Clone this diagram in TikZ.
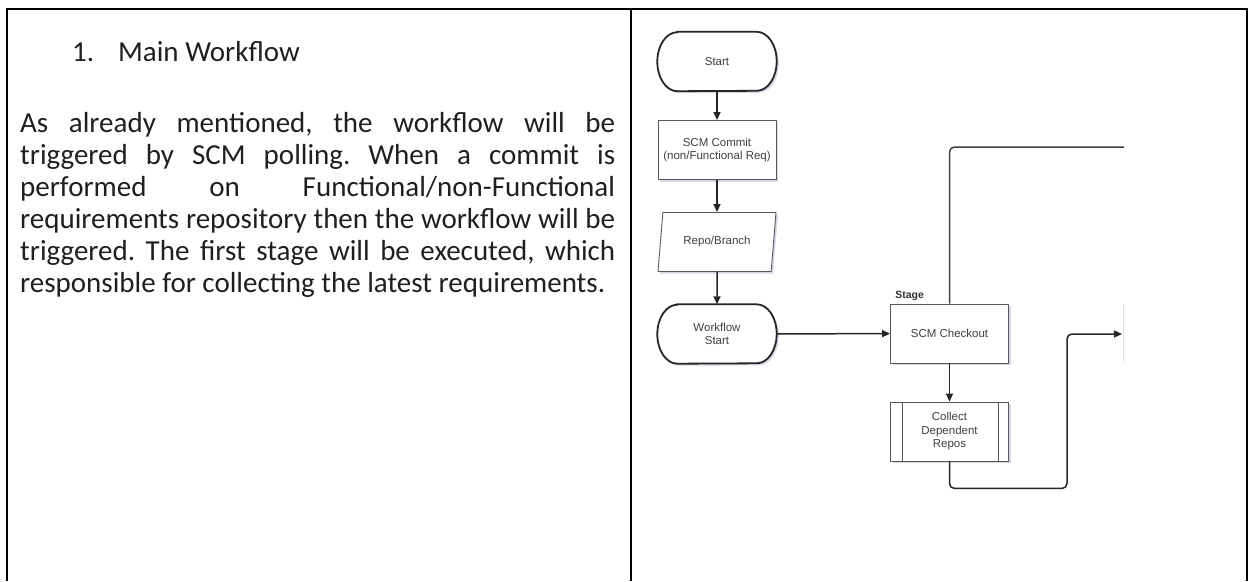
\documentclass[tikz,border=0pt]{standalone}
\usepackage{fontspec}
\setmainfont{Carlito}
\newfontfamily\chartfont{Liberation Sans}
\usetikzlibrary{arrows.meta,shapes.geometric,shadows}
\tolerance=10000
\hbadness=10000

\pgfdeclarelayer{bg}
\pgfsetlayers{bg,main}

\tikzset{
  bodytext/.style={inner sep=0pt, text=black!88, font=\fontsize{29}{32}\selectfont\frenchspacing},
  boxshadow/.style={drop shadow={shadow xshift=2pt, shadow yshift=-2pt, opacity=0.16, fill=blue!40!black}},
  chartnode/.style={minimum width=118pt, minimum height=59pt, inner sep=1pt, align=center,
    text=black!75, font=\chartfont\fontsize{11.5}{13.5}\selectfont},
  flowbox/.style={chartnode, draw=black!65, line width=0.9pt, fill=white, boxshadow},
  iobox/.style={flowbox, trapezium, trapezium left angle=69, trapezium right angle=111,
    trapezium stretches body},
  termbox/.style={chartnode, minimum width=119pt},
  termline/.style={draw=black!85, line width=1.8pt, fill=white, boxshadow},
  stagetag/.style={inner sep=0pt, text=black!80, font=\chartfont\bfseries\fontsize{10.5}{12}\selectfont},
  flow/.style={draw=black!85, line width=1.5pt, rounded corners=5pt, -{Triangle[length=8pt,width=7pt]}},
  link/.style={draw=black!75, line width=1.5pt, rounded corners=5pt}
}

% outline of a terminal node, ends are half ellipses
\newcommand{\termoutline}[1]{%
  \begin{pgfonlayer}{bg}
  \draw[termline] ([xshift=20pt]#1.north west) -- ([xshift=-20pt]#1.north east)
    arc[start angle=90, end angle=-90, x radius=20pt, y radius=29.5pt]
    -- ([xshift=20pt]#1.south west)
    arc[start angle=270, end angle=90, x radius=20pt, y radius=29.5pt] -- cycle;
  \end{pgfonlayer}}

\begin{document}
\begin{tikzpicture}[x=1pt, y=1pt]
\useasboundingbox (0,0) rectangle (1250,-581);
% table frame
\draw[line width=2pt] (7,-581) -- (7,-9) -- (1247,-9) -- (1247,-581);
\draw[line width=2pt] (631,-9) -- (631,-581);

% left cell
\node[bodytext, anchor=base west] (head) at (72,-61) {\makebox[46pt][l]{1.}Main Workflow};
\node[bodytext, text width=595pt, align=justify, anchor=base west] (body) at (20,-132) {As already mentioned, the workflow will be\linebreak
triggered by SCM polling. When a commit is\linebreak
performed on Functional/non-Functional\linebreak
requirements repository then the workflow will be\linebreak
triggered. The first stage will be executed, which\linebreak
responsible for collecting the latest requirements.};

% right cell: flow chart
\node[termbox] (start) at (717,-61.5) {Start};
\node[flowbox] (commit) at (717,-150) {SCM Commit\\(non/Functional Req)};
\node[iobox] (repo) at (717,-242) {Repo/Branch};
\node[termbox] (wfstart) at (717,-334) {Workflow\\Start};
\node[flowbox] (checkout) at (949.5,-333.5) {SCM Checkout};
\node[flowbox] (collect) at (949.5,-431.5) {Collect\\Dependent\\Repos};
\node[stagetag, anchor=base west] (stage) at ([xshift=5pt,yshift=5pt]checkout.north west) {Stage};
\termoutline{start}
\termoutline{wfstart}
\draw[draw=black!65, line width=0.9pt] ([xshift=12pt]collect.north west) -- ([xshift=12pt]collect.south west)
  ([xshift=-11pt]collect.north east) -- ([xshift=-11pt]collect.south east);

\coordinate (nextin) at (1122,-334);
\coordinate (nextout) at (1124,-147);
\draw[black!12, line width=0.8pt] (1123,-304) -- (1123,-363);

\draw[flow] (start) -- (commit);
\draw[flow] (commit) -- (repo);
\draw[flow] (repo) -- (wfstart);
\draw[flow] (wfstart) -- (checkout);
\draw[flow] (checkout) -- (collect);
\draw[flow] (collect.south) -- ++(0,-27) -| ([xshift=-55pt]nextin) -- (nextin);
\draw[link] (checkout.north) |- (nextout);
\end{tikzpicture}
\end{document}
